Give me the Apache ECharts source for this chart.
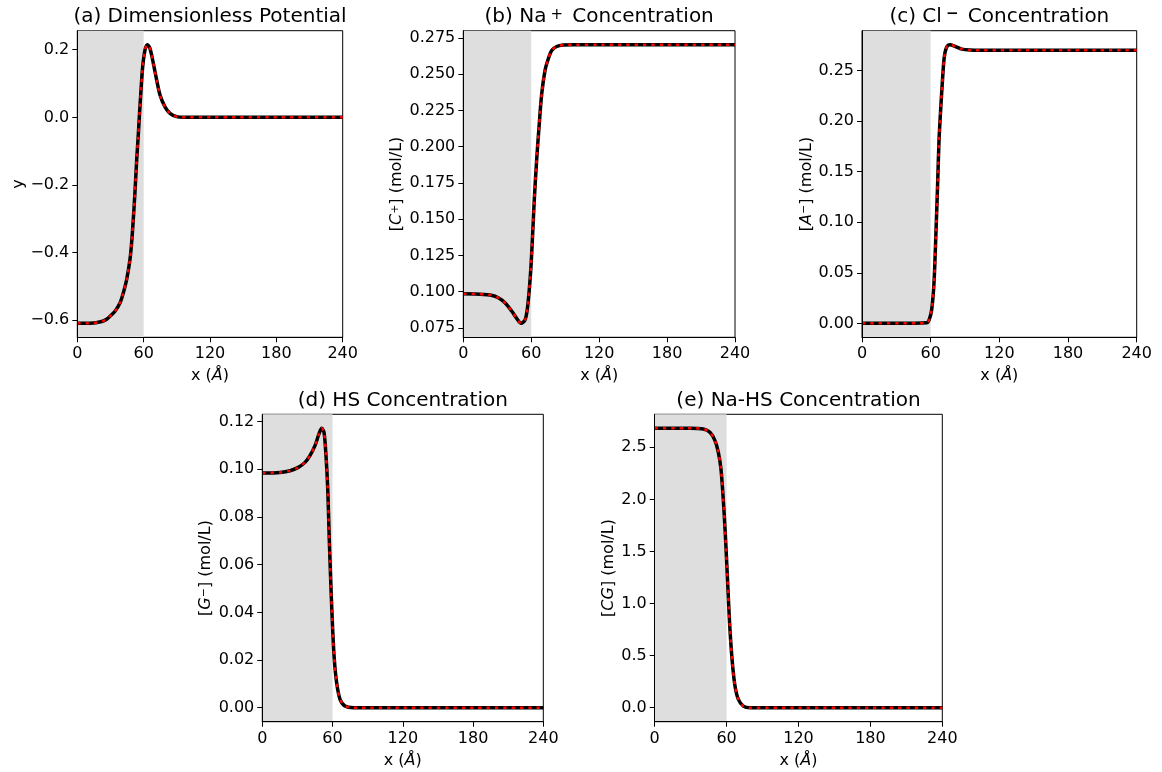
<!DOCTYPE html>
<html>
<head>
<meta charset="utf-8">
<script src="https://cdn.jsdelivr.net/npm/echarts@6/dist/echarts.min.js"></script>
<style>
  html, body { margin: 0; padding: 0; background: #fff; }
  #chart { width: 1162px; height: 772px; }
</style>
</head>
<body>
<div id="chart"></div>
<script>
// Profiles across the interface, x in Å. Shaded band marks the 0–60 Å layer.
const xPotential = [0, 8, 14.5, 20, 23.5, 26.5, 29.6, 34.1, 38.6, 41.6, 44.6, 47.6, 49.1, 50.6, 52.1, 53.7, 55, 56.1, 57.6, 59.1, 61.2, 63.3, 65.7, 68.8, 71.8, 74.8, 79.3, 83.8, 89.9, 95.8, 120, 180, 240];
const potential = [-0.609, -0.609, -0.608, -0.605, -0.602, -0.597, -0.588, -0.573, -0.549, -0.519, -0.480, -0.421, -0.372, -0.303, -0.224, -0.126, -0.06, 0.002, 0.080, 0.149, 0.199, 0.215, 0.204, 0.159, 0.110, 0.066, 0.031, 0.012, 0.002, 0, 0, 0, 0];

const xSodium = [0, 10, 23.6, 30.9, 36.8, 42.7, 47.7, 51.0, 54.5, 56.5, 58.3, 59.8, 61.3, 62.7, 64.8, 66.9, 69.3, 72.2, 75.1, 78.1, 82.5, 88.3, 97.2, 120, 180, 240];
const sodium = [0.0986, 0.0985, 0.0977, 0.0959, 0.0924, 0.0867, 0.0810, 0.0782, 0.0805, 0.0878, 0.1016, 0.1176, 0.1405, 0.1633, 0.1908, 0.2136, 0.2366, 0.2526, 0.2606, 0.2663, 0.2690, 0.2700, 0.2703, 0.2703, 0.2703, 0.2703];

const xChloride = [0, 30, 56.5, 58.8, 60.9, 62.9, 64.6, 66.1, 67.3, 68.7, 70.5, 71.9, 74.0, 76.9, 81.3, 87.1, 94.4, 103.1, 150, 240];
const chloride = [0, 0, 0.0005, 0.004, 0.0138, 0.0401, 0.0894, 0.1386, 0.1813, 0.2108, 0.2437, 0.2634, 0.2732, 0.2756, 0.2739, 0.2712, 0.2702, 0.2700, 0.2700, 0.2700];

const xHumic = [0, 15.1, 23.7, 30.7, 36.5, 40.7, 45.0, 48.4, 50.7, 52.7, 54.4, 55.9, 57.2, 58.7, 60.1, 61.5, 63.5, 66.4, 70.6, 77.8, 120, 180, 240];
const humic = [0.0984, 0.0987, 0.0994, 0.1008, 0.1029, 0.1057, 0.1099, 0.1148, 0.1172, 0.1155, 0.1057, 0.0917, 0.0707, 0.0497, 0.0329, 0.0203, 0.0105, 0.0035, 0.0007, 0, 0, 0, 0];

const xComplex = [0, 29.5, 40.6, 46.1, 50.3, 53.1, 55.3, 57.2, 58.7, 60.1, 61.4, 62.8, 64.8, 67.0, 69.8, 74.0, 79.6, 120, 180, 240];
const complexConc = [2.683, 2.683, 2.676, 2.644, 2.564, 2.452, 2.291, 2.003, 1.714, 1.394, 1.073, 0.753, 0.433, 0.208, 0.080, 0.015, 0, 0, 0, 0];

// Tick values
const xTicks = [0, 60, 120, 180, 240];
const potentialTicks = [-0.6, -0.4, -0.2, 0, 0.2];
const sodiumTicks = [0.075, 0.1, 0.125, 0.15, 0.175, 0.2, 0.225, 0.25, 0.275];
const chlorideTicks = [0, 0.05, 0.1, 0.15, 0.2, 0.25];
const humicTicks = [0, 0.02, 0.04, 0.06, 0.08, 0.1, 0.12];
const complexTicks = [0, 0.5, 1, 1.5, 2, 2.5];

const shadedRange = [0, 60];

const FONT = 'DejaVu Sans';
const minus = s => s.replace('-', '\u2212');

// axis extent padded by 5% of the data span
function paddedExtent(values) {
  const lo = Math.min(...values), hi = Math.max(...values);
  const pad = (hi - lo) * 0.05;
  return [lo - pad, hi + pad];
}

const richStyles = {
  it: { fontFamily: FONT, fontSize: 16, fontStyle: 'italic', color: '#000' },
  sup: { fontFamily: FONT, fontSize: 11, color: '#000', verticalAlign: 'top' }
};
const titleRich = {
  plus: { fontFamily: FONT, fontSize: 15, color: '#000', padding: [0, 3, 4, 4] },
  neg: { fontFamily: FONT, fontSize: 15, fontWeight: 'bold', color: '#000', verticalAlign: 'top', padding: [0, 3, 0, 4] }
};

const panels = [
  { title: '(a) Dimensionless Potential', yName: 'y', xs: xPotential, ys: potential, ticks: potentialTicks, digits: 1,
    box: { left: 77.3, top: 30.7, width: 265.4, height: 306.6 }, nameGap: 50 },
  { title: '(b) Na{plus|+} Concentration', yName: '[{it|C}{sup|+}] (mol/L)', xs: xSodium, ys: sodium, ticks: sodiumTicks, digits: 3,
    box: { left: 463.3, top: 30.7, width: 271.7, height: 306.6 }, nameGap: 58 },
  { title: '(c) Cl{neg|\u2212} Concentration', yName: '[{it|A}{sup|\u2212}] (mol/L)', xs: xChloride, ys: chloride, ticks: chlorideTicks, digits: 2,
    box: { left: 862, top: 30.7, width: 274.7, height: 306.6 }, nameGap: 47 },
  { title: '(d) HS Concentration', yName: '[{it|G}{sup|\u2212}] (mol/L)', xs: xHumic, ys: humic, ticks: humicTicks, digits: 2,
    box: { left: 262.3, top: 414.3, width: 281, height: 307.4 }, nameGap: 48 },
  { title: '(e) Na-HS Concentration', yName: '[{it|CG}] (mol/L)', xs: xComplex, ys: complexConc, ticks: complexTicks, digits: 1,
    box: { left: 654.7, top: 414.3, width: 287.6, height: 307.4 }, nameGap: 38 }
];

const option = {
  animation: false,
  backgroundColor: '#fff',
  title: [], grid: [], xAxis: [], yAxis: [], series: []
};

panels.forEach((p, i) => {
  const b = p.box;
  const ext = paddedExtent(p.ys);
  const pairs = p.xs.map((x, k) => [x, p.ys[k]]);

  option.title.push({
    text: p.title,
    left: b.left + b.width / 2,
    top: b.top - 24,
    textAlign: 'center',
    padding: 0,
    textStyle: { fontFamily: FONT, fontSize: 20, fontWeight: 'normal', color: '#000', rich: titleRich }
  });

  option.grid.push({
    left: b.left, top: b.top, width: b.width, height: b.height,
    show: true, borderColor: '#000', borderWidth: 1, backgroundColor: '#fff'
  });

  option.xAxis.push({
    type: 'value', gridIndex: i, min: 0, max: 240, z: 5,
    name: 'x ({it|Å})', nameLocation: 'middle', nameGap: 31,
    nameTextStyle: { fontFamily: FONT, fontSize: 16, color: '#000', rich: richStyles },
    axisLine: { show: true, onZero: false, lineStyle: { color: '#000', width: 1 } },
    axisTick: { show: true, length: 5, lineStyle: { color: '#000' }, customValues: xTicks },
    axisLabel: { fontFamily: FONT, fontSize: 16, color: '#000', margin: 9, customValues: xTicks,
                 formatter: v => String(v) },
    splitLine: { show: false }
  });

  option.yAxis.push({
    type: 'value', gridIndex: i, min: ext[0], max: ext[1], z: 5,
    name: p.yName, nameLocation: 'middle', nameGap: p.nameGap, nameRotate: 90,
    nameTextStyle: { fontFamily: FONT, fontSize: 16, color: '#000', rich: richStyles },
    axisLine: { show: true, onZero: false, lineStyle: { color: '#000', width: 1 } },
    axisTick: { show: true, length: 5, lineStyle: { color: '#000' }, customValues: p.ticks },
    axisLabel: { fontFamily: FONT, fontSize: 16, color: '#000', margin: 8, customValues: p.ticks,
                 formatter: v => minus(Number(v).toFixed(p.digits)) },
    splitLine: { show: false }
  });

  // solid black profile with the shaded layer beneath
  option.series.push({
    type: 'line', xAxisIndex: i, yAxisIndex: i, data: pairs, showSymbol: false, symbol: 'none',
    smooth: 0.3, z: 3,
    lineStyle: { color: '#000', width: 3.5 },
    markArea: {
      silent: true,
      itemStyle: { color: '#dedede' },
      data: [[{ xAxis: shadedRange[0] }, { xAxis: shadedRange[1] }]]
    }
  });
  // red dotted overlay of the same profile
  option.series.push({
    type: 'line', xAxisIndex: i, yAxisIndex: i, data: pairs, showSymbol: false, symbol: 'none',
    smooth: 0.3, z: 4,
    lineStyle: { color: '#ff0000', width: 2.5, type: [3.3, 5] }
  });
});

const chart = echarts.init(document.getElementById('chart'), null, { renderer: 'canvas' });
chart.setOption(option);
</script>
</body>
</html>
